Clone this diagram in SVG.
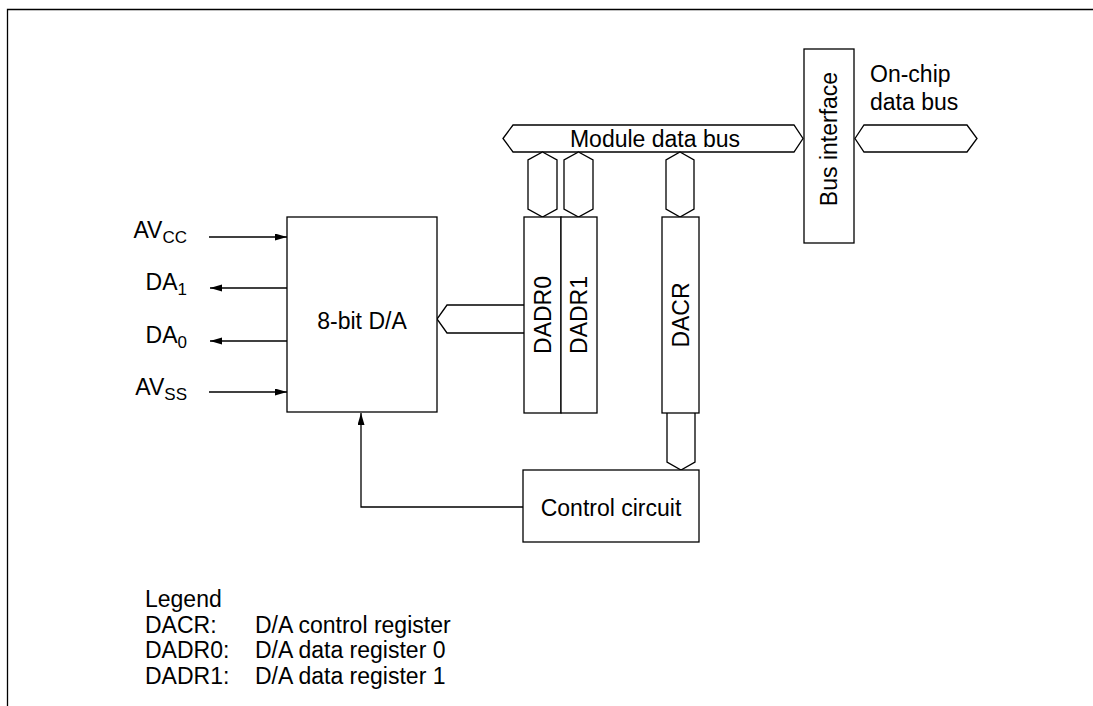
<svg xmlns="http://www.w3.org/2000/svg" width="1093" height="706" viewBox="0 0 1093 706">
<style>
.ln{fill:none;stroke:#000;stroke-width:1.3}
.bx{fill:#fff;stroke:#000;stroke-width:1.3}
.t{font-family:"Liberation Sans",Arial,sans-serif;font-size:23px;fill:#000}
.s{font-size:17px}
.m{text-anchor:middle}
.e{text-anchor:end}
</style>
<defs>
<marker id="arr" markerUnits="userSpaceOnUse" markerWidth="12" markerHeight="8" refX="12" refY="3.5" orient="auto">
<path d="M0,0 L12,3.5 L0,7 z" fill="#000"/>
</marker>
</defs>
<rect width="1093" height="706" fill="#fff"/>
<g id="frame"><polyline class="ln" points="7.5,706 7.5,9.5 1093,9.5"/></g>

<g id="connectors">
<polygon id="module-data-bus-shape" class="bx" points="503,138.5 513,125 794,125 803,138.5 794,152 513,152"/>
<polygon id="onchip-bus-shape" class="bx" points="855,138.5 864,125 967,125 977,138.5 967,152 864,152"/>
<polygon class="bx" points="542.5,152 557,160 557,209 542.5,217 528,209 528,160"/>
<polygon class="bx" points="578.5,152 593,160 593,209 578.5,217 564,209 564,160"/>
<polygon class="bx" points="680,152 694,160 694,209 680,217 666,209 666,160"/>
<polyline class="ln" points="667,413 667,462 681,470 695,462 695,413"/>
<polyline class="ln" points="524,305 447,305 437,319 447,333 524,333"/>
<line class="ln" x1="209" y1="237" x2="287" y2="237" marker-end="url(#arr)"/>
<line class="ln" x1="287" y1="288" x2="210" y2="288" marker-end="url(#arr)"/>
<line class="ln" x1="287" y1="341" x2="210" y2="341" marker-end="url(#arr)"/>
<line class="ln" x1="209" y1="392" x2="287" y2="392" marker-end="url(#arr)"/>
<polyline class="ln" points="523,507 361,507 361,413" marker-end="url(#arr)"/>
</g>

<g id="module-data-bus"><text class="t m" x="655" y="147">Module data bus</text></g>
<g id="onchip-data-bus"><text class="t" x="870" y="82">On-chip</text><text class="t" x="870" y="110">data bus</text></g>

<g id="bus-interface">
<rect class="bx" x="804" y="49" width="50" height="194"/>
<text class="t m" transform="translate(837,139) rotate(-90)" x="0" y="0">Bus interface</text>
</g>

<g id="da-converter">
<rect class="bx" x="287" y="217" width="150" height="195"/>
<text class="t m" x="362" y="329">8-bit D/A</text>
</g>

<g id="dadr0">
<rect class="bx" x="524" y="217" width="37" height="196"/>
<text class="t m" transform="translate(550.5,315) rotate(-90)">DADR0</text>
</g>
<g id="dadr1">
<rect class="bx" x="561" y="217" width="36" height="196"/>
<text class="t m" transform="translate(587,315) rotate(-90)">DADR1</text>
</g>
<g id="dacr">
<rect class="bx" x="662" y="217" width="37" height="196"/>
<text class="t m" transform="translate(688.5,315) rotate(-90)">DACR</text>
</g>

<g id="control-circuit">
<rect class="bx" x="523" y="470" width="176" height="72"/>
<text class="t m" x="611" y="516">Control circuit</text>
</g>

<g id="pin-labels">
<text class="t e" x="187" y="238">AV<tspan class="s" dy="5">CC</tspan></text>
<text class="t e" x="187" y="290">DA<tspan class="s" dy="5">1</tspan></text>
<text class="t e" x="187" y="343">DA<tspan class="s" dy="5">0</tspan></text>
<text class="t e" x="187" y="395">AV<tspan class="s" dy="5">SS</tspan></text>
</g>

<g id="legend">
<text class="t" x="145" y="607">Legend</text>
<text class="t" x="145" y="633">DACR:</text>
<text class="t" x="255" y="633">D/A control register</text>
<text class="t" x="145" y="658">DADR0:</text>
<text class="t" x="255" y="658">D/A data register 0</text>
<text class="t" x="145" y="684">DADR1:</text>
<text class="t" x="255" y="684">D/A data register 1</text>
</g>
</svg>
